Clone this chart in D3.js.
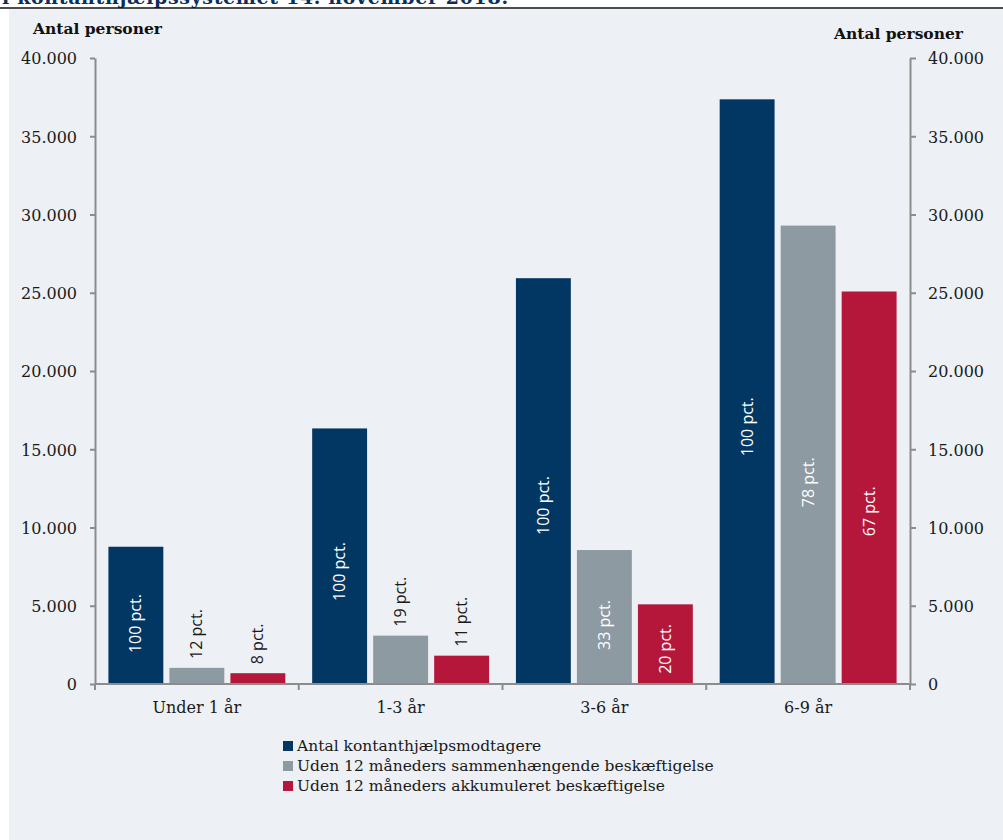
<!DOCTYPE html>
<html>
<head>
<meta charset="utf-8">
<script src="https://cdn.jsdelivr.net/npm/d3@7"></script>
<style>
  body { margin: 0; background: #ffffff; }
  svg { display: block; }
  .axis path, .axis line { stroke: #8c8c8c; stroke-width: 2; }
  .axis text { font-family: "DejaVu Serif", serif; font-size: 16px; fill: #1a1a1a; }
</style>
</head>
<body>
<svg id="chart"></svg>
<script>
// data
const categories = ["Under 1 år", "1-3 år", "3-6 år", "6-9 år"];
const seriesNames = [
    "Antal kontanthjælpsmodtagere",
    "Uden 12 måneders sammenhængende beskæftigelse",
    "Uden 12 måneders akkumuleret beskæftigelse"
];
const totalValues = [8770, 16330, 25930, 37360];
const sammenValues = [1030, 3090, 8560, 29290];
const akkumValues = [690, 1810, 5090, 25080];
const pctLabels = [
    ["100 pct.", "100 pct.", "100 pct.", "100 pct."],
    ["12 pct.", "19 pct.", "33 pct.", "78 pct."],
    ["8 pct.", "11 pct.", "20 pct.", "67 pct."]
];
const yTicks = [0, 5000, 10000, 15000, 20000, 25000, 30000, 35000, 40000];
const colors = ["#033763", "#8e9aa2", "#b5173b"];

const width = 1003, height = 840;
const margin = { left: 95, right: 93, top: 58, bottom: 156 };
const x0 = margin.left, x1 = width - margin.right;
const yBase = height - margin.bottom;

const svg = d3.select("#chart")
    .attr("width", width)
    .attr("height", height);

// cut off title and panel
svg.append("text")
    .attr("x", 2)
    .attr("y", 4)
    .attr("textLength", 506)
    .style("font-family", "DejaVu Serif, serif")
    .style("font-weight", "bold")
    .style("font-size", "19px")
    .style("fill", "#0b2f5c")
    .text("i kontanthjælpssystemet 14. november 2018.");

svg.append("rect")
    .attr("x", 9).attr("y", 9)
    .attr("width", width - 9).attr("height", height - 9)
    .style("fill", "#edf0f4");

svg.append("line")
    .attr("x1", 0).attr("x2", width)
    .attr("y1", 8).attr("y2", 8)
    .style("stroke", "#111").style("stroke-width", 1.5);

// scales
let y = d3.scaleLinear()
    .domain([0, 40000])
    .range([yBase, margin.top]);

let x = d3.scaleBand()
    .domain(categories)
    .range([x0, x1])
    .paddingInner(0)
    .paddingOuter(0);

let xInner = d3.scaleBand()
    .domain([0, 1, 2])
    .range([0, x.bandwidth()])
    .paddingInner(0.1)
    .paddingOuter(0.22);

let fmt = d => d === 0 ? "0" : d3.format(",")(d).replace(/,/g, ".");

// axes
svg.append("g")
    .attr("class", "axis")
    .attr("transform", "translate(" + x0 + ",0)")
    .call(d3.axisLeft(y).tickValues(yTicks).tickSize(5).tickSizeOuter(0).tickPadding(13).tickFormat(fmt));

svg.append("g")
    .attr("class", "axis")
    .attr("transform", "translate(" + x1 + ",0)")
    .call(d3.axisRight(y).tickValues(yTicks).tickSize(6).tickSizeOuter(0).tickPadding(12).tickFormat(fmt));

svg.selectAll(".axis text").attr("dy", "0.36em");

// axis titles
svg.append("text")
    .attr("x", 33).attr("y", 34)
    .style("font-family", "DejaVu Serif, serif")
    .style("font-weight", "bold")
    .style("font-size", "15.5px")
    .style("fill", "#111")
    .text("Antal personer");

svg.append("text")
    .attr("x", 963).attr("y", 39)
    .attr("text-anchor", "end")
    .style("font-family", "DejaVu Serif, serif")
    .style("font-weight", "bold")
    .style("font-size", "15.5px")
    .style("fill", "#111")
    .text("Antal personer");

// bars
let series = [totalValues, sammenValues, akkumValues];
let rows = [];
categories.forEach((c, i) => {
    series.forEach((s, j) => {
        rows.push({ cat: c, k: j, value: s[i], label: pctLabels[j][i] });
    });
});

let barGroup = svg.append("g").attr("class", "bars");

barGroup.selectAll("rect")
    .data(rows).enter()
    .append("rect")
    .attr("x", d => x(d.cat) + xInner(d.k))
    .attr("y", d => y(d.value))
    .attr("width", xInner.bandwidth())
    .attr("height", d => y(0) - y(d.value))
    .style("fill", d => colors[d.k]);

// value labels (rotated)
barGroup.selectAll("text")
    .data(rows).enter()
    .append("text")
    .attr("transform", d => {
        let cx = x(d.cat) + xInner(d.k) + xInner.bandwidth() / 2;
        let h = y(0) - y(d.value);
        if (h > 70) {
            return "translate(" + cx + "," + (y(0) - h * 0.44) + ") rotate(-90)";
        }
        return "translate(" + cx + "," + (y(d.value) - 9) + ") rotate(-90)";
    })
    .attr("text-anchor", d => (y(0) - y(d.value)) > 70 ? "middle" : "start")
    .attr("dy", "0.35em")
    .style("font-family", "Open Sans, sans-serif")
    .style("font-size", "16px")
    .style("fill", d => (y(0) - y(d.value)) > 70 ? "#ffffff" : "#1a1a1a")
    .text(d => d.label);

// x axis
let xAxis = svg.append("g").attr("class", "axis");
xAxis.append("line")
    .attr("x1", x0).attr("x2", x1)
    .attr("y1", yBase).attr("y2", yBase);
xAxis.selectAll(".xtick")
    .data(categories.concat(["end"])).enter()
    .append("line")
    .attr("class", "xtick")
    .attr("x1", d => d === "end" ? x1 : x(d))
    .attr("x2", d => d === "end" ? x1 : x(d))
    .attr("y1", yBase).attr("y2", yBase + 6);
xAxis.selectAll(".xlab")
    .data(categories).enter()
    .append("text")
    .attr("class", "xlab")
    .attr("x", d => x(d) + x.bandwidth() / 2)
    .attr("y", 713)
    .attr("text-anchor", "middle")
    .text(d => d);

// legend
let legend = svg.append("g")
    .attr("transform", "translate(283,741)");
let li = legend.selectAll("g")
    .data(seriesNames).enter()
    .append("g")
    .attr("transform", (d, i) => "translate(0," + (i * 20) + ")");
li.append("rect")
    .attr("width", 10).attr("height", 10)
    .style("fill", (d, i) => colors[i]);
li.append("text")
    .attr("x", 14).attr("y", 9.5)
    .style("font-family", "DejaVu Serif, serif")
    .style("font-size", "15.5px")
    .style("fill", "#1a1a1a")
    .text(d => d);
</script>
</body>
</html>
